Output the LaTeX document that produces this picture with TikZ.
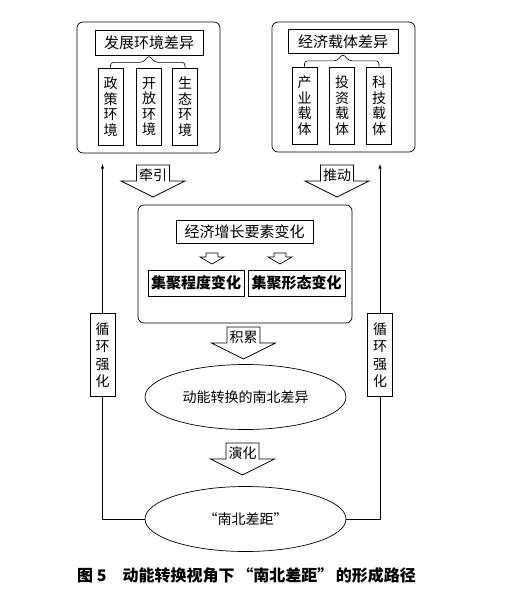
\documentclass[tikz,border=0pt]{standalone}
\usepackage{fontspec}
\newfontfamily\cjk{Noto Sans CJK SC}
\usetikzlibrary{arrows,shapes.geometric,calc}
\tikzset{
  every node/.style = {font=\cjk\fontsize{14}{15.5}\selectfont, inner sep=0pt},
  outerbox/.style = {draw, rounded corners=6pt, line width=0.7pt},
  titlebox/.style = {draw, line width=0.7pt, font=\cjk\fontsize{15}{16}\selectfont},
  vbox/.style = {draw, line width=0.7pt, align=center, minimum width=25pt, minimum height=77pt},
  clusterbox/.style = {draw, line width=0.7pt, minimum height=26pt, font=\cjk\bfseries\fontsize{15}{16}\selectfont},
  loopbox/.style = {draw, line width=0.7pt, align=center, minimum width=25pt, minimum height=83pt, font=\cjk\fontsize{14}{17.5}\selectfont},
  stage/.style = {ellipse, draw, line width=0.7pt, minimum width=201pt, minimum height=65pt},
  bigarrow/.pic = {
    \draw[line width=0.7pt] (-16.5,0) -- (-16.5,16) -- (-32,16) -- (0,32) -- (32,16) -- (16.5,16) -- (16.5,0) -- cycle;
    \node (-lbl) at (0,10) {#1};
  },
  smallarrow/.pic = {
    \draw[line width=0.7pt] (-6,0) -- (-6,4) -- (-12,4) -- (0,11) -- (12,4) -- (6,4) -- (6,0) -- cycle;
  },
}
\begin{document}
\begin{tikzpicture}[x=1pt, y=-1pt]
  \useasboundingbox (0,0) rectangle (506,601);

  % development environment
  \node [outerbox, minimum width=143pt, minimum height=131pt] (envbox) at (148.5,87.5) {};
  \node [titlebox, minimum width=108pt, minimum height=25pt] (envtitle) at (149,42.5) {发展环境差异};
  \node [vbox] (policy) at (110.5,106.5) {政\\策\\环\\境};
  \node [vbox] (open) at (149,106.5) {开\\放\\环\\境};
  \node [vbox] (eco) at (185,106.5) {生\\态\\环\\境};
  \draw [line width=0.6pt, rounded corners=3pt] (policy.north) |- ($(envtitle.south)+(-6,7)$) -- (envtitle.south) -- ($(envtitle.south)+(6,7)$) -| (eco.north);

  % economic carriers
  \node [outerbox, minimum width=143pt, minimum height=130pt] (carbox) at (343.5,87) {};
  \node [titlebox, minimum width=110pt, minimum height=24pt] (cartitle) at (343,41.5) {经济载体差异};
  \node [vbox] (industry) at (304.5,105.5) {产\\业\\载\\体};
  \node [vbox] (invest) at (342,105.5) {投\\资\\载\\体};
  \node [vbox] (tech) at (379,105.5) {科\\技\\载\\体};
  \draw [line width=0.6pt, rounded corners=3pt] (industry.north) |- ($(cartitle.south)+(-6,7)$) -- (cartitle.south) -- ($(cartitle.south)+(6,7)$) -| (tech.north);

  % driving arrows
  \pic (pull) at (153,165) {bigarrow=牵引};
  \pic (push) at (337,165) {bigarrow=推动};

  % growth factors
  \node [outerbox, minimum width=214pt, minimum height=118pt] (growbox) at (245,264) {};
  \node [titlebox, minimum width=137pt, minimum height=23pt] (growtitle) at (244.5,231.5) {经济增长要素变化};
  \pic (degarrow) at (212,253) {smallarrow};
  \pic (formarrow) at (280,253) {smallarrow};
  \node [clusterbox, minimum width=96pt] (degree) at (196,283) {集聚程度变化};
  \node [clusterbox, minimum width=97pt] (form) at (296.5,283) {集聚形态变化};

  % accumulation and evolution
  \pic (accum) at (243.5,327) {bigarrow=积累};
  \node [stage] (shift) at (245.5,397) {动能转换的南北差异};
  \pic (evolve) at (242.5,443) {bigarrow=演化};
  \node [stage] (gap) at (245.5,519) {“南北差距”};

  % feedback loops
  \node [loopbox] (loopL) at (102.5,355) {循\\环\\强\\化};
  \node [loopbox] (loopR) at (380,355) {循\\环\\强\\化};
  \coordinate (topL) at (102.5,164);
  \coordinate (topR) at (380,164);
  \draw [line width=0.6pt] (gap.west) -| (loopL.south);
  \draw [line width=0.6pt, -latex] (loopL.north) -- (topL);
  \draw [line width=0.6pt] (gap.east) -| (loopR.south);
  \draw [line width=0.6pt, -latex] (loopR.north) -- (topR);

  % caption
  \node [font=\cjk\bfseries\fontsize{16}{18}\selectfont, anchor=west] (caption) at (77,575) {图\ 5\quad 动能转换视角下\,“南北差距”\,的形成路径};
\end{tikzpicture}
\end{document}
